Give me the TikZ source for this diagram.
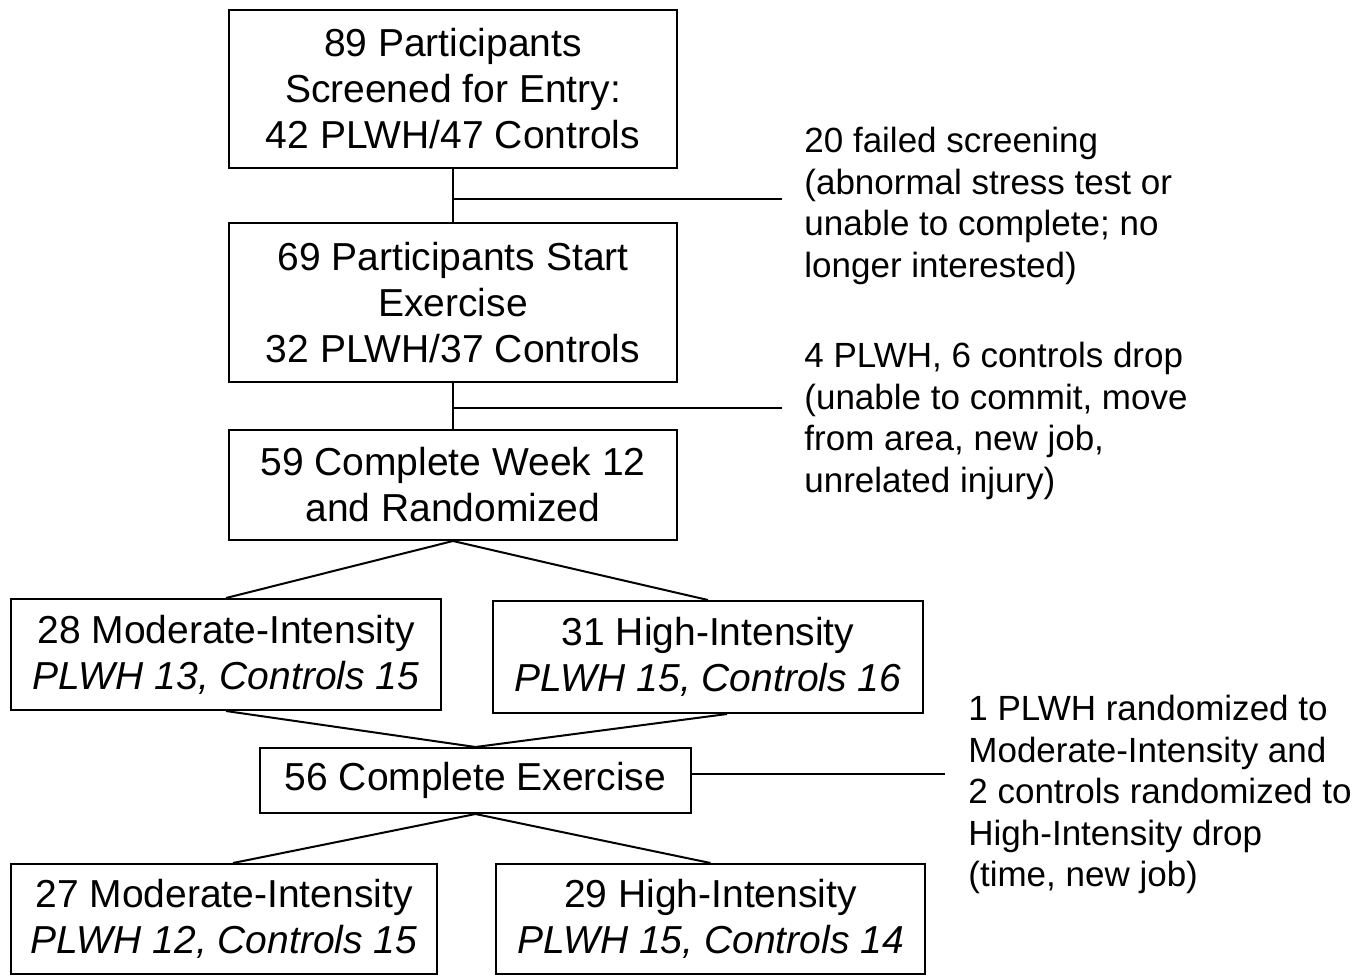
\documentclass[tikz,border=0pt]{standalone}
\usepackage{fontspec}
\setmainfont{Liberation Sans}
\usetikzlibrary{calc}
\begin{document}
\begin{tikzpicture}[x=0.5pt,y=-0.5pt,
  box/.style={draw=black, line width=1pt, rectangle, inner sep=0pt, align=center,
    font=\fontsize{19.5}{23}\selectfont},
  note/.style={inner sep=0pt, anchor=north west, align=left,
    font=\fontsize{17.5}{20.75}\selectfont},
  conn/.style={draw=black, line width=1pt}]
\useasboundingbox[fill=white] (0,0) rectangle (1368,975);

\node[box, minimum width=224pt, minimum height=79pt] (b1) at (453,89)
  {89 Participants\\Screened for Entry:\\42 PLWH/47 Controls};
\node[box, minimum width=224pt, minimum height=79.5pt] (b2) at (453,302.5)
  {69 Participants Start\\Exercise\\32 PLWH/37 Controls};
\node[box, minimum width=224pt, minimum height=55pt] (b3) at (453,485)
  {59 Complete Week 12\\and Randomized};
\node[box, minimum width=215pt, minimum height=55.5pt] (b4) at (226,654.5)
  {28 Moderate-Intensity\\\textit{PLWH 13, Controls 15}};
\node[box, minimum width=215pt, minimum height=56pt] (b5) at (708,657)
  {31 High-Intensity\\\textit{PLWH 15, Controls 16}};
\node[box, minimum width=215.5pt, minimum height=32.5pt] (b6) at (475.5,780.5)
  {\raisebox{-1.5pt}{56 Complete Exercise}};
\node[box, minimum width=213pt, minimum height=55pt] (b7) at (224,919)
  {27 Moderate-Intensity\\\textit{PLWH 12, Controls 15}};
\node[box, minimum width=214.5pt, minimum height=55pt] (b8) at (710.5,919)
  {29 High-Intensity\\\textit{PLWH 15, Controls 14}};

\node[note] (n1) at (804,127)
  {20 failed screening\\(abnormal stress test or\\unable to complete; no\\longer interested)};
\node[note] (n2) at (804,342)
  {4 PLWH, 6 controls drop\\(unable to commit, move\\from area, new job,\\unrelated injury)};
\node[note] (n3) at (968,695)
  {1 PLWH randomized to\\Moderate-Intensity and\\2 controls randomized to\\High-Intensity drop\\(time, new job)};

\coordinate (j1) at (453,199);
\coordinate (e1) at (782,199);
\coordinate (j2) at (453,408);
\coordinate (e2) at (782,408);
\coordinate (e3) at (945,774);

\draw[conn] (b1.south) -- (b2.north);
\draw[conn] (j1) -- (e1);
\draw[conn] (b2.south) -- (b3.north);
\draw[conn] (j2) -- (e2);
\draw[conn] (b3.south) -- (b4.north);
\draw[conn] (b3.south) -- (b5.north);
\draw[conn] (b4.south) -- (b6.north);
\draw[conn] ([xshift=9.5pt]b5.south) -- (b6.north);
\draw[conn] ([yshift=3.25pt]b6.east) -- (e3);
\draw[conn] (b6.south) -- ([xshift=4.5pt]b7.north);
\draw[conn] (b6.south) -- (b8.north);
\end{tikzpicture}
\end{document}
